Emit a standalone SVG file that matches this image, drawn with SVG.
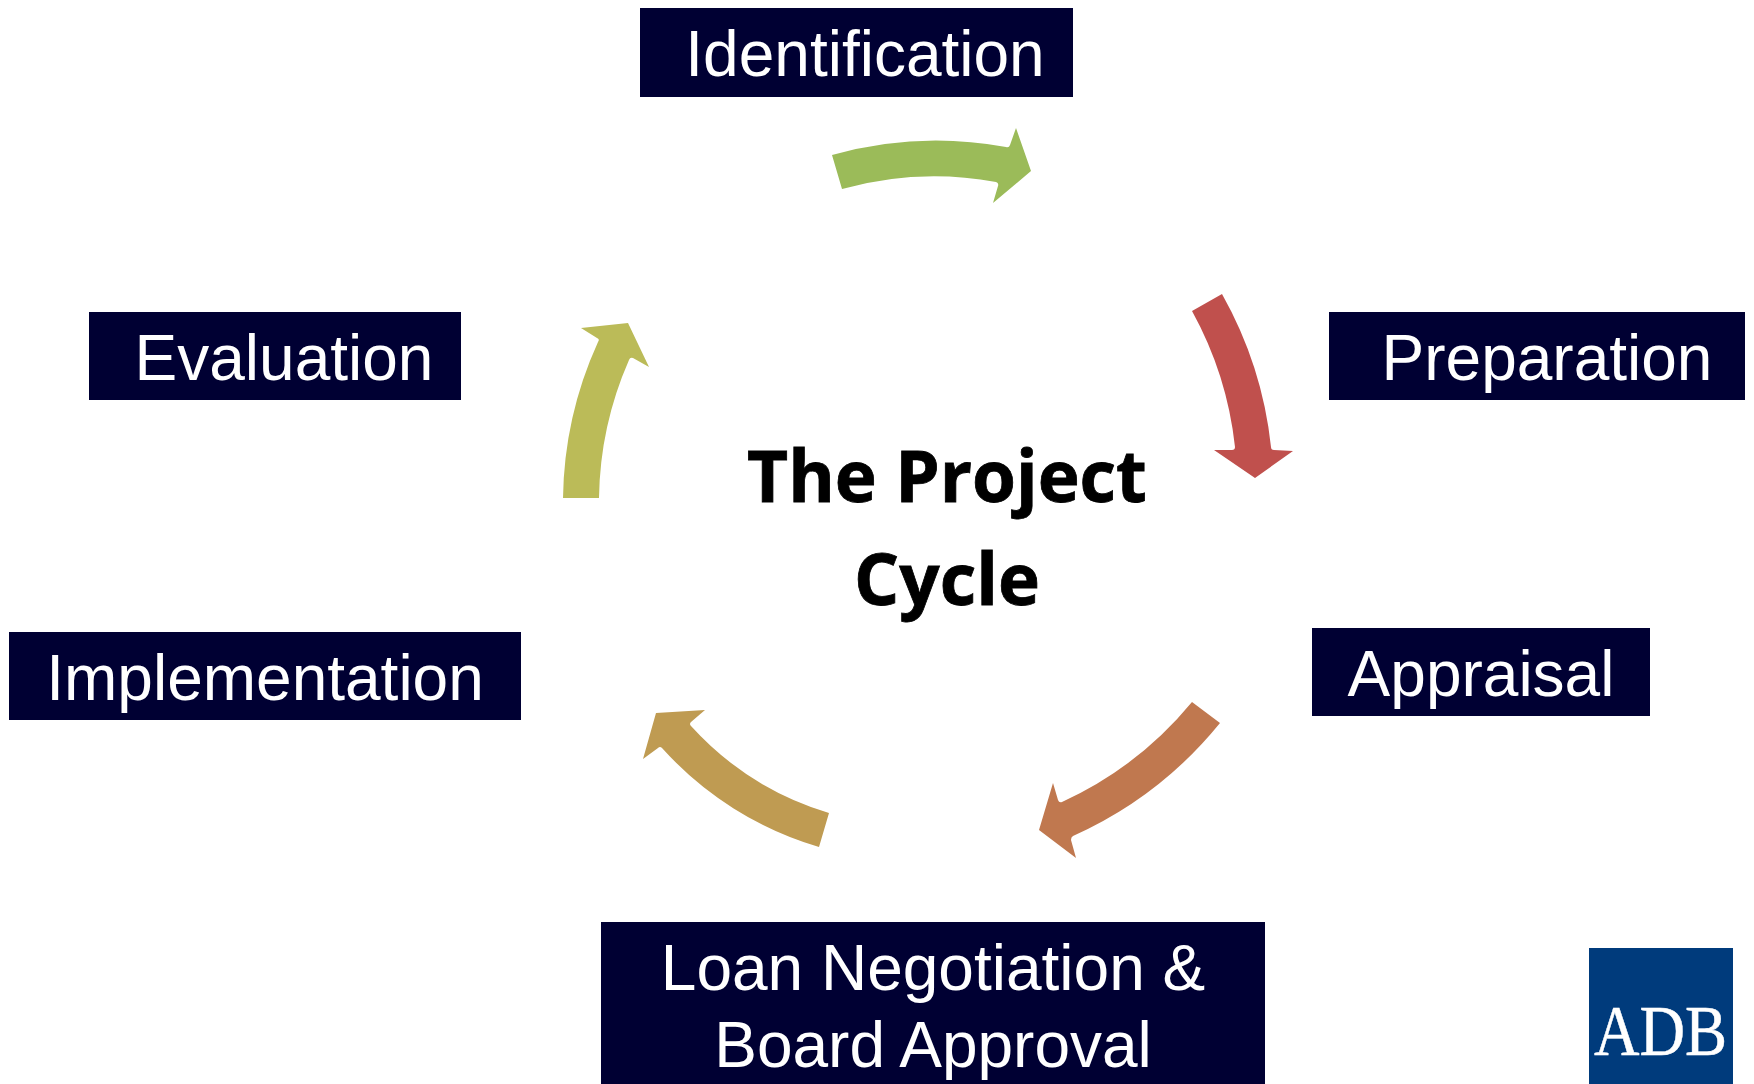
<svg xmlns="http://www.w3.org/2000/svg" width="1754" height="1084" viewBox="0 0 1754 1084">
<style>
.box{fill:#000033}
.lbl{font-family:"Liberation Sans",Arial,sans-serif;font-size:64px;fill:#fff;text-anchor:middle}
.title{font-family:"Open Sans","Noto Sans",sans-serif;font-weight:700;font-size:71px;fill:#000;stroke:#000;stroke-width:.8px;text-anchor:middle}
</style>
<rect width="1754" height="1084" fill="#fff"/>
<g id="connectors">
<path id="arrow-green" fill="#9bbb59" d="M832 155A385 385 0 0 1 1006 147Q1009 148 1010 145L1016 128L1031 171L993 203L998 186Q999 183 996 182A345 345 0 0 0 842 189Z"/>
<path id="arrow-red" fill="#c0504d" d="M1192 311L1222 294A398 398 0 0 1 1271 447Q1271 450 1274 450L1293 451L1255 478L1214 450L1232 450Q1235 450 1235 447A362 362 0 0 0 1192 311Z"/>
<path id="arrow-brown" fill="#c0784f" d="M1192 702L1220 723A400 400 0 0 1 1073 836Q1071 837 1071 840L1076 858L1039 830L1053 783L1058 800Q1059 803 1062 802A365 365 0 0 0 1192 702Z"/>
<path id="arrow-tan" fill="#bf9b52" d="M829 813L819 847A340 340 0 0 1 662 748Q660 746 658 748L643 759L656 713L705 710L691 722Q689 724 691 726A305 305 0 0 0 829 813Z"/>
<path id="arrow-olive" fill="#bbbb58" d="M563 498A390 390 0 0 1 598 342Q600 339 597 338L581 328L628 323L649 367L633 358Q630 357 629 360A355 355 0 0 0 599 498Z"/>
</g>
<g id="center"><text class="title" x="947" y="502">The Project</text><text class="title" x="947" y="605">Cycle</text></g>
<g id="identification"><rect class="box" x="640" y="8" width="433" height="89"/><text class="lbl" x="865" y="76">Identification</text></g>
<g id="preparation"><rect class="box" x="1329" y="312" width="416" height="88"/><text class="lbl" x="1547" y="380">Preparation</text></g>
<g id="appraisal"><rect class="box" x="1312" y="628" width="338" height="88"/><text class="lbl" x="1481" y="696">Appraisal</text></g>
<g id="loan"><rect class="box" x="601" y="922" width="664" height="162"/><text class="lbl" x="933" y="990">Loan Negotiation &amp;</text><text class="lbl" x="933" y="1067">Board Approval</text></g>
<g id="implementation"><rect class="box" x="9" y="632" width="512" height="88"/><text class="lbl" x="265" y="700">Implementation</text></g>
<g id="evaluation"><rect class="box" x="89" y="312" width="372" height="88"/><text class="lbl" x="284" y="380">Evaluation</text></g>
<g id="adb-logo"><rect x="1589" y="948" width="144" height="136" fill="#003b7c"/><text x="1594" y="1055" font-family="Liberation Serif,serif" font-size="71" fill="#fff" stroke="#fff" stroke-width=".5" textLength="133" lengthAdjust="spacingAndGlyphs">ADB</text></g>
</svg>
